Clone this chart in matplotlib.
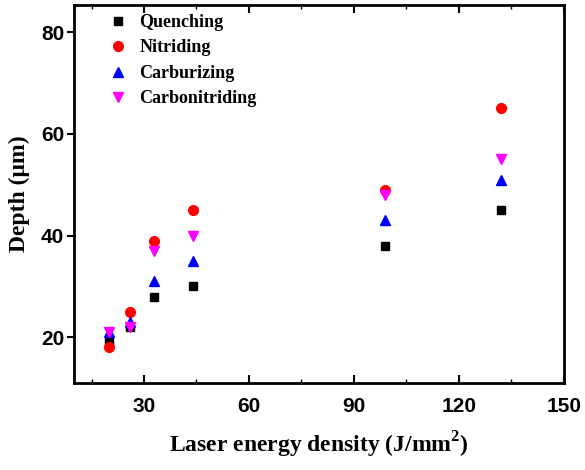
import numpy as np
import matplotlib.pyplot as plt

plt.rcParams['mathtext.fontset'] = 'custom'
plt.rcParams['mathtext.bf'] = 'Liberation Serif:bold'
plt.rcParams['mathtext.rm'] = 'Liberation Serif'

# Laser energy density (J/mm^2) and hardened depth (um)
energy = [20, 26, 33, 44, 99, 132]
quenching = [19, 22, 28, 30, 38, 45]
nitriding = [18, 25, 39, 45, 49, 65]
carburizing = [21, 23, 31, 35, 43, 51]
carbonitriding = [21, 22, 37, 40, 48, 55]

fig = plt.figure(figsize=(5.85, 4.7), dpi=100)
ax = fig.add_axes([0.1265, 0.185, 0.8375, 0.804])

ax.plot(energy, quenching, 's', color='black', ms=6, label='Quenching', ls='none')
ax.plot(energy, nitriding, 'o', color='red', ms=7, label='Nitriding', ls='none')
ax.plot(energy, carburizing, '^', color='blue', ms=7, label='Carburizing', ls='none')
ax.plot(energy, carbonitriding, 'v', color='magenta', ms=7, label='Carbonitriding', ls='none')

ax.set_xlim(10, 150)
ax.set_ylim(11, 85.3)
ax.set_xticks([30, 60, 90, 120, 150])
ax.set_xticks([15, 45, 75, 105, 135], minor=True)
ax.set_yticks([20, 40, 60, 80])

tick_font = {'family': 'Liberation Sans', 'weight': 'bold', 'size': 15}
ax.set_xticklabels(['30', '60', '90', '120', '150'], fontdict=tick_font)
ax.set_yticklabels(['20', '40', '60', '80'], fontdict=tick_font)

ax.tick_params(axis='x', which='major', direction='in', length=6, width=1.5, pad=10, top=True)
ax.tick_params(axis='x', which='minor', direction='in', length=3, width=1, top=True)
ax.tick_params(axis='y', which='major', direction='out', length=5, width=1.5, pad=2)

for sp in ax.spines.values():
    sp.set_linewidth(2)

label_font = {'family': 'Liberation Serif', 'weight': 'bold', 'size': 17}
ax.set_xlabel('Laser energy density (J/mm$^\\mathbf{2}$)', fontdict=label_font, labelpad=10)
ax.set_ylabel('Depth (\u03bcm)', fontdict=label_font, labelpad=8)

leg = ax.legend(loc='upper left', frameon=False, prop={'family': 'Liberation Serif', 'weight': 'bold', 'size': 13},
                handletextpad=0.6, labelspacing=0.47, borderaxespad=0.0, bbox_to_anchor=(0.052, 0.996),
                handlelength=1.2)

fig.savefig('out.png', dpi=100)
